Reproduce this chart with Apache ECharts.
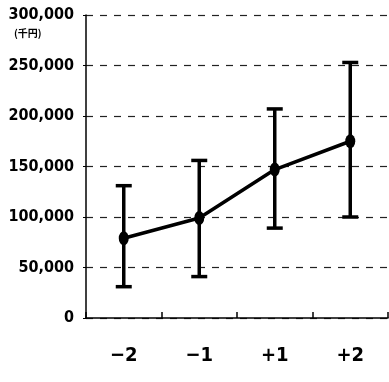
<!DOCTYPE html>
<html><head><meta charset="utf-8">
<script src="https://cdn.jsdelivr.net/npm/echarts@6/dist/echarts.min.js"></script>
<style>html,body{margin:0;padding:0;background:#fff}#c{width:389px;height:382px}</style>
</head><body><div id="c"></div>
<script>
const categories = ['\u22122', '\u22121', '+1', '+2'];
const meanValues = [79000, 99000, 147000, 175000];
const lowValues = [31000, 41000, 89000, 100000];
const highValues = [131000, 156000, 207000, 253000];
const yTicks = [0, 50000, 100000, 150000, 200000, 250000, 300000];
const unitLabel = '(\u5343\u5186)';

const FONT = '"DejaVu Sans Condensed", "Liberation Sans Narrow", sans-serif';
const chart = echarts.init(document.getElementById('c'));
const errData = categories.map((c, i) => [i, lowValues[i], highValues[i]]);
chart.setOption({
  animation: false,
  grid: {left: 86, right: 1, top: 15, bottom: 64, containLabel: false, outerBoundsMode: 'none'},
  xAxis: {
    type: 'category', data: categories, boundaryGap: true,
    axisLine: {lineStyle: {color: '#000', width: 1.5}},
    axisTick: {show: true, inside: true, length: 6, lineStyle: {color: '#000', width: 1.5}},
    axisLabel: {color: '#000', fontFamily: FONT, fontWeight: 'bold', fontSize: 20, margin: 28}
  },
  yAxis: {
    type: 'value', min: yTicks[0], max: yTicks[yTicks.length - 1], interval: 50000,
    axisLine: {show: true, lineStyle: {color: '#000', width: 1.5}},
    axisTick: {show: true, inside: false, length: 3, lineStyle: {color: '#000'}},
    axisLabel: {color: '#000', fontFamily: FONT, fontWeight: 'bold', fontSize: 16, margin: 12,
      formatter: v => v === 0 ? '0' : v.toLocaleString('en-US')},
    splitLine: {show: true, lineStyle: {color: '#222', type: [7, 7], width: 1.2}}
  },
  graphic: [{type: 'text', left: 14, top: 28, style: {text: unitLabel, font: 'bold 10px "Noto Sans CJK JP", sans-serif', fill: '#000'}}],
  series: [
    {
      type: 'custom', data: errData, z: 3,
      renderItem: function (params, api) {
        const x = api.value(0);
        const lo = api.coord([x, api.value(1)]);
        const hi = api.coord([x, api.value(2)]);
        const hw = 8;
        const st = {stroke: '#000', lineWidth: 3.5};
        return {type: 'group', children: [
          {type: 'line', shape: {x1: lo[0], y1: lo[1], x2: hi[0], y2: hi[1]}, style: st},
          {type: 'line', shape: {x1: lo[0] - hw, y1: lo[1], x2: lo[0] + hw, y2: lo[1]}, style: st},
          {type: 'line', shape: {x1: hi[0] - hw, y1: hi[1], x2: hi[0] + hw, y2: hi[1]}, style: st}
        ]};
      }
    },
    {
      type: 'line', data: meanValues, z: 4,
      lineStyle: {color: '#000', width: 3.5},
      itemStyle: {color: '#000'},
      symbol: 'path://M0,0 A4,6 0 1,0 0.001,0 Z', symbolSize: [10, 14], showSymbol: true
    }
  ]
});
</script></body></html>
